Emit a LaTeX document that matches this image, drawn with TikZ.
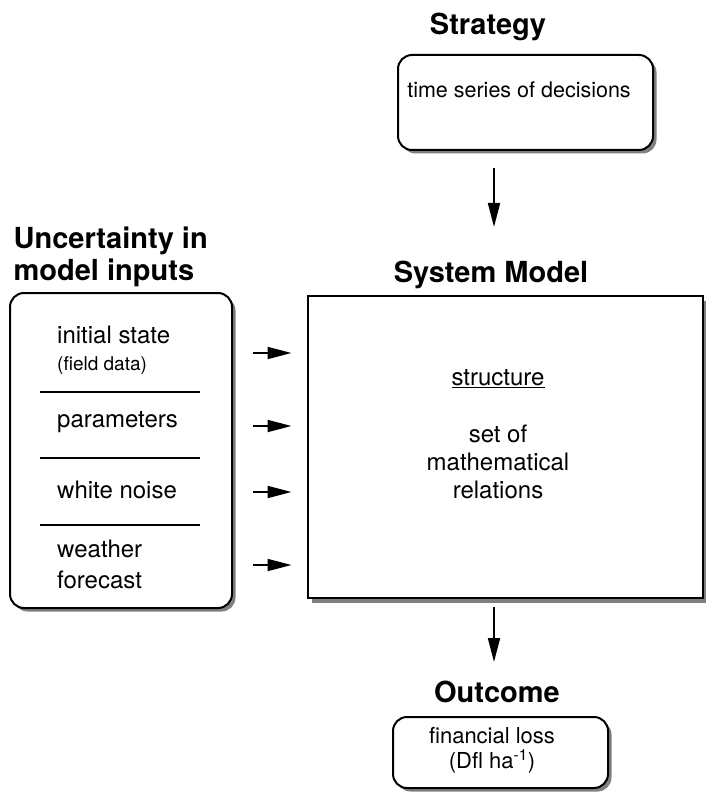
\documentclass[tikz,border=0pt]{standalone}
\usepackage{fontspec}
\setmainfont{TeX Gyre Heros}
\usetikzlibrary{arrows.meta}
\usetikzlibrary{shadows}

\tikzset{
  head/.style={font=\fontsize{29}{33}\selectfont\bfseries, anchor=base},
  box/.style={draw, line width=2pt, fill=white, rounded corners=14pt,
    drop shadow={opacity=1, shadow xshift=3.5pt, shadow yshift=-3.5pt}},
  flatbox/.style={draw, line width=2pt, fill=white,
    drop shadow={opacity=1, shadow xshift=4pt, shadow yshift=-5pt}},
  txt/.style={font=\fontsize{24}{28}\selectfont, anchor=base, inner sep=0pt},
  small/.style={font=\fontsize{19}{22}\selectfont, anchor=base west, inner sep=0pt},
  flow/.style={line width=1.8pt, -{Triangle[length=24pt,width=12pt]}},
}

\begin{document}
\begin{tikzpicture}[x=1pt,y=-1pt]
  \useasboundingbox (0,0) rectangle (705,794);

  % strategy
  \node[head] (strattitle) at (488,35) {Strategy};
  \node[box, minimum width=255pt, minimum height=95pt] (strat) at (525.5,102.5) {};
  \node[txt, font=\fontsize{21.5}{26}\selectfont] (decis) at (519,98) {time series of decisions};

  % uncertainty in inputs
  \node[head, anchor=base west] (inptitle) at (10,248) {Uncertainty in};
  \node[head, anchor=base west] (inptitle2) at (10,280) {model inputs};
  \node[box, minimum width=222pt, minimum height=315pt] (inp) at (121,450.5) {};
  \node[txt, anchor=base west] (init) at (57,343) {initial state};
  \node[small] (field) at (57,370) {(field data)};
  \node[txt, anchor=base west] (param) at (57,427) {parameters};
  \node[txt, anchor=base west] (noise) at (57,498) {white noise};
  \node[txt, anchor=base west] (weath) at (57,557) {weather};
  \node[txt, anchor=base west] (fcast) at (57,588) {forecast};
  \draw[line width=1.6pt] (40,392) -- (200,392);
  \draw[line width=1.6pt] (40,458) -- (200,458);
  \draw[line width=1.6pt] (40,525) -- (200,525);

  % system model
  \node[head] (systitle) at (491,282) {System Model};
  \node[flatbox, minimum width=395pt, minimum height=302pt] (sys) at (505,447) {};
  \node[txt] (struct) at (498,385) {\underline{structure}};
  \node[txt] (rel1) at (498,442) {set of};
  \node[txt] (rel2) at (498,470) {mathematical};
  \node[txt] (rel3) at (498,498) {relations};

  % outcome
  \node[head] (outtitle) at (497,702) {Outcome};
  \node[box, minimum width=215pt, minimum height=71pt] (out) at (500.5,752.5) {};
  \node[txt, font=\fontsize{22}{26}\selectfont] (loss1) at (492,743) {financial loss};
  \node[txt, font=\fontsize{22}{26}\selectfont] (loss2) at (492,768) {(Dfl ha\textsuperscript{-1})};

  % arrows
  \coordinate (s1) at (494,227);
  \draw[flow, shorten <=17pt] (strat.south -| s1) -- (s1);
  \coordinate (o1) at (494,662);
  \draw[flow, shorten <=8pt] (sys.south -| o1) -- (o1);
  \coordinate (a1) at (253,353);
  \coordinate (a2) at (253,426);
  \coordinate (a3) at (253,492);
  \coordinate (a4) at (253,565);
  \foreach \a in {a1,a2,a3,a4}
    \draw[flow, shorten >=15pt] (\a) -- (sys.west |- \a);
\end{tikzpicture}
\end{document}
